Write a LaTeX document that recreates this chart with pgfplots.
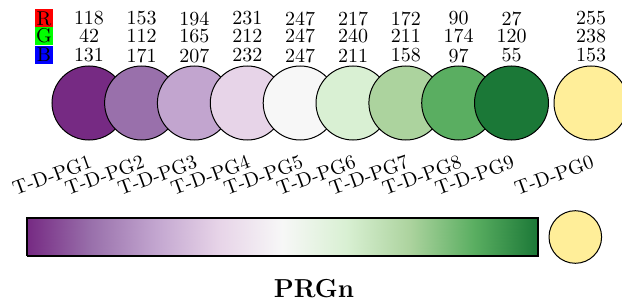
\documentclass[border=0pt]{standalone}
\usepackage{pgfplots}
\usepackage{pgfplotstable}
\pgfplotsset{compat=1.18}
\definecolor{c1}{RGB}{118,42,131}
\definecolor{c2}{RGB}{153,112,171}
\definecolor{c3}{RGB}{194,165,207}
\definecolor{c4}{RGB}{231,212,232}
\definecolor{c5}{RGB}{247,247,247}
\definecolor{c6}{RGB}{217,240,211}
\definecolor{c7}{RGB}{172,211,158}
\definecolor{c8}{RGB}{90,174,97}
\definecolor{c9}{RGB}{27,120,55}
\definecolor{c0}{RGB}{255,238,153}
\pgfplotstableread{
x R G B label
89.0 118 42 131 T-D-PG1
141.6 153 112 171 T-D-PG2
194.4 194 165 207 T-D-PG3
247.3 231 212 232 T-D-PG4
300.2 247 247 247 T-D-PG5
353.0 217 240 211 T-D-PG6
405.9 172 211 158 T-D-PG7
458.7 90 174 97 T-D-PG8
511.5 27 120 55 T-D-PG9
591.0 255 238 153 T-D-PG0
}\cmap
% gradient bar as triangles (x, y, colour value)
\pgfplotstableread{
x y c
27.000 50 0.000
90.875 50 0.125
90.875 88 0.125
27.000 50 0.000
90.875 88 0.125
27.000 88 0.000
90.875 50 0.125
154.750 50 0.250
154.750 88 0.250
90.875 50 0.125
154.750 88 0.250
90.875 88 0.125
154.750 50 0.250
218.625 50 0.375
218.625 88 0.375
154.750 50 0.250
218.625 88 0.375
154.750 88 0.250
218.625 50 0.375
282.500 50 0.500
282.500 88 0.500
218.625 50 0.375
282.500 88 0.500
218.625 88 0.375
282.500 50 0.500
346.375 50 0.625
346.375 88 0.625
282.500 50 0.500
346.375 88 0.625
282.500 88 0.500
346.375 50 0.625
410.250 50 0.750
410.250 88 0.750
346.375 50 0.625
410.250 88 0.750
346.375 88 0.625
410.250 50 0.750
474.125 50 0.875
474.125 88 0.875
410.250 50 0.750
474.125 88 0.875
410.250 88 0.750
474.125 50 0.875
538.000 50 1.000
538.000 88 1.000
474.125 50 0.875
538.000 88 1.000
474.125 88 0.875
}\bar
\begin{document}
\begin{tikzpicture}
\begin{axis}[
  scale only axis, width=311pt, height=153pt,
  xmin=0, xmax=622, ymin=0, ymax=306,
  hide axis, clip=false,
  colormap={prgn}{rgb255=(118,42,131) rgb255=(153,112,171) rgb255=(194,165,207) rgb255=(231,212,232) rgb255=(247,247,247) rgb255=(217,240,211) rgb255=(172,211,158) rgb255=(90,174,97) rgb255=(27,120,55)},
  point meta min=0, point meta max=1,
]
% RGB rows
\addplot[only marks, mark=none, nodes near coords, point meta=explicit symbolic,
  nodes near coords style={anchor=center, inner sep=0pt}] table[x=x, y expr=287.5, meta=R] {\cmap};
\addplot[only marks, mark=none, nodes near coords, point meta=explicit symbolic,
  nodes near coords style={anchor=center, inner sep=0pt}] table[x=x, y expr=270, meta=G] {\cmap};
\addplot[only marks, mark=none, nodes near coords, point meta=explicit symbolic,
  nodes near coords style={anchor=center, inner sep=0pt}] table[x=x, y expr=250.5, meta=B] {\cmap};
% circles
\addplot[only marks, mark=*, mark size=18.5pt, mark options={fill=c1, draw=black, line width=0.5pt}] coordinates {(89.0,203)};
\addplot[only marks, mark=*, mark size=18.5pt, mark options={fill=c2, draw=black, line width=0.5pt}] coordinates {(141.6,203)};
\addplot[only marks, mark=*, mark size=18.5pt, mark options={fill=c3, draw=black, line width=0.5pt}] coordinates {(194.4,203)};
\addplot[only marks, mark=*, mark size=18.5pt, mark options={fill=c4, draw=black, line width=0.5pt}] coordinates {(247.3,203)};
\addplot[only marks, mark=*, mark size=18.5pt, mark options={fill=c5, draw=black, line width=0.5pt}] coordinates {(300.2,203)};
\addplot[only marks, mark=*, mark size=18.5pt, mark options={fill=c6, draw=black, line width=0.5pt}] coordinates {(353.0,203)};
\addplot[only marks, mark=*, mark size=18.5pt, mark options={fill=c7, draw=black, line width=0.5pt}] coordinates {(405.9,203)};
\addplot[only marks, mark=*, mark size=18.5pt, mark options={fill=c8, draw=black, line width=0.5pt}] coordinates {(458.7,203)};
\addplot[only marks, mark=*, mark size=18.5pt, mark options={fill=c9, draw=black, line width=0.5pt}] coordinates {(511.5,203)};
\addplot[only marks, mark=*, mark size=18.5pt, mark options={fill=c0, draw=black, line width=0.5pt}] coordinates {(591.0,203)};
% labels
\addplot[only marks, mark=none, nodes near coords, point meta=explicit symbolic,
  nodes near coords style={anchor=east, rotate=20, inner sep=0pt}] table[x expr=\thisrow{x}+2, y expr=145, meta=label] {\cmap};
% gradient bar
\addplot[patch, shader=interp, point meta=\thisrow{c}] table[x=x, y=y] {\bar};
\addplot[black, line width=0.8pt, mark=none] coordinates {(27,50) (538,50) (538,88) (27,88) (27,50)};
% small circle
\addplot[only marks, mark=*, mark size=13.15pt, mark options={fill=c0, draw=black, line width=0.5pt}] coordinates {(575.3,69)};
\node[fill=red, minimum size=9pt, inner sep=0pt] at (axis cs:44,287.5) {R};
\node[fill=green, minimum size=9pt, inner sep=0pt] at (axis cs:44,270) {G};
\node[fill=blue, minimum size=9pt, inner sep=0pt] at (axis cs:44,251) {B};
\node[font=\fontsize{13}{15}\selectfont\bfseries] at (axis cs:314,17.5) {PRGn};
\end{axis}
\pgfresetboundingbox
\useasboundingbox (0,0) rectangle (311pt,153pt);
\end{tikzpicture}
\end{document}
